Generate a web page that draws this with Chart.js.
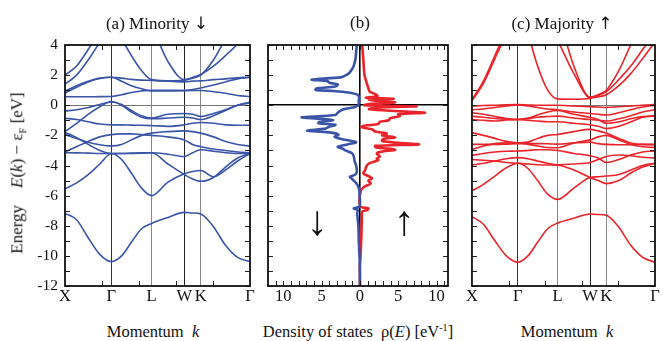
<!DOCTYPE html>
<html>
<head>
<meta charset="utf-8">
<script src="https://cdn.jsdelivr.net/npm/chart.js@4.4.1/dist/chart.umd.min.js"></script>
<style>
  body { margin: 0; background: #fff; width: 663px; height: 341px; overflow: hidden; position: relative; font-family: "Liberation Serif", serif; color: #111; }
  canvas { position: absolute; }
  .lbl { position: absolute; white-space: nowrap; transform: translate(-50%, -50%); font-size: 16.5px; }
  .ttl { font-size: 17px; }
  .ar { font-family: "DejaVu Sans", sans-serif; font-size: 17px; }
  .arrow { position: absolute; transform: translate(-50%, -50%); font-size: 42px; line-height: 1; }
  #ylab { transform: translate(-50%, -50%) rotate(-90deg); font-size: 17px; }
</style>
</head>
<body>
<canvas id="bandsMin" width="262" height="285" style="left:0;top:25px"></canvas>
<canvas id="dos" width="196" height="285" style="left:262px;top:25px"></canvas>
<canvas id="bandsMaj" width="198" height="285" style="left:465px;top:25px"></canvas>

<div class="lbl ttl" style="left:157px;top:23px">(a) Minority <span class="ar">↓</span></div>
<div class="lbl ttl" style="left:360px;top:23px">(b)</div>
<div class="lbl ttl" style="left:562px;top:23px">(c) Majority <span class="ar">↑</span></div>
<div class="lbl" id="ylab" style="left:18px;top:173px"><span style="margin-right:17px">Energy</span><i>E</i>(<i>k</i>) − ε<sub style="font-size:10.5px">F</sub> [eV]</div>
<div class="lbl" style="left:153px;top:332px">Momentum &nbsp;<i>k</i></div>
<div class="lbl" style="left:567px;top:332px">Momentum &nbsp;<i>k</i></div>
<div class="lbl" style="left:358px;top:332px">Density of states &nbsp;ρ(<i>E</i>) [eV<sup style="font-size:10px">-1</sup>]</div>
<div class="arrow" style="left:317px;top:221px">↓</div>
<div class="arrow" style="left:404px;top:221px">↑</div>

<script>
// k-path X - Γ - L - W - K - Γ (units of 2π/a)
const kPoints = [0, 0.25, 0.5, 0.75, 1, 1.22, 1.43, 1.65, 1.866, 2.22, 2.573, 2.75, 2.927, 3.2, 3.46, 3.72, 3.988];
const kTicks = [0, 1, 1.866, 2.573, 2.927, 3.988];
const kLabels = ['X', 'Γ', 'L', 'W', 'K', 'Γ'];
const energyTicks = [4, 2, 0, -2, -4, -6, -8, -10, -12];

// minority spin bands (eV), one row per band, values at kPoints
const minorityBands = [
  [-7.18, -7.6, -8.8, -9.9, -10.38, -10.0, -9.1, -8.2, -7.85, -7.45, -7.11, -7.15, -7.22, -8.06, -9.3, -10.1, -10.38],
  [-5.55, -5.15, -4.6, -3.9, -3.2, -3.6, -4.5, -5.5, -6.0, -5.1, -4.55, -4.4, -4.33, -4.75, -4.3, -3.7, -3.2],
  [-3.15, -3.16, -3.18, -3.2, -3.2, -3.2, -3.2, -3.18, -3.15, -3.9, -4.6, -4.9, -5.05, -4.8, -4.1, -3.5, -3.2],
  [-1.8, -2.15, -2.6, -3.0, -3.2, -3.2, -3.18, -3.16, -3.15, -3.25, -3.4, -3.15, -2.95, -3.05, -3.15, -3.2, -3.2],
  [-3.1, -2.75, -2.4, -2.1, -1.95, -1.9, -1.9, -1.95, -2.0, -2.1, -2.3, -2.6, -2.75, -2.9, -3.0, -3.1, -3.15],
  [-1.95, -2.2, -2.45, -2.62, -2.7, -2.6, -2.3, -2.0, -1.85, -1.75, -1.7, -1.75, -1.85, -2.1, -2.4, -2.6, -2.72],
  [-0.86, -0.95, -1.1, -1.25, -1.3, -1.3, -1.32, -1.33, -1.35, -1.4, -1.3, -1.2, -1.15, -1.2, -1.3, -1.33, -1.33],
  [-1.75, -1.2, -0.6, -0.1, 0.25, 0.0, -0.45, -0.8, -0.9, -0.85, -0.8, -0.85, -0.95, -0.7, -0.35, 0.0, 0.22],
  [-0.38, -0.3, -0.15, 0.05, 0.22, 0.05, -0.35, -0.7, -0.85, -0.6, -0.55, -0.6, -0.75, -0.55, -0.3, 0.0, 0.15],
  [0.57, 0.56, 0.56, 0.57, 0.58, 0.7, 0.85, 0.95, 1.0, 1.0, 0.98, 1.05, 1.15, 1.35, 1.55, 1.75, 1.86],
  [0.81, 1.2, 1.55, 1.78, 1.86, 1.6, 1.3, 1.1, 0.95, 0.95, 0.97, 0.98, 0.98, 0.9, 0.8, 0.65, 0.58],
  [0.95, 1.3, 1.6, 1.8, 1.86, 1.8, 1.72, 1.67, 1.65, 1.6, 1.55, 1.6, 1.62, 1.7, 1.75, 1.82, 1.86],
  [1.4, 2.0, 3.0, 4.2, 5.5, 6.5, 7, 7, 7, 7, 7, 7, 7, 7, 7, 7, 7],
  [2.0, 2.6, 3.7, 5.0, 6.0, 7, 7, 7, 7, 7, 7, 7, 7, 7, 7, 7, 7],
  [7, 7, 7, 6, 5.5, 4.4, 3.3, 2.3, 1.7, 1.62, 1.65, 1.85, 2.05, 2.6, 3.3, 4.1, 5.5],
  [7, 7, 7, 7, 7, 7, 7, 6, 5.2, 2.9, 1.7, 1.8, 2.0, 3.0, 4.4, 5.5, 6.5]
];

// majority spin bands (eV)
const majorityBands = [
  [-7.4, -7.9, -9.0, -10.0, -10.42, -10.0, -9.1, -8.2, -7.82, -7.5, -7.22, -7.25, -7.3, -8.1, -9.3, -10.1, -10.42],
  [-5.68, -5.25, -4.7, -4.15, -3.85, -4.2, -5.0, -5.9, -6.25, -5.5, -4.8, -4.75, -4.7, -4.6, -4.3, -4.0, -3.85],
  [-3.6, -3.65, -3.7, -3.8, -3.85, -3.9, -3.95, -3.97, -3.98, -4.3, -4.8, -5.0, -5.2, -5.0, -4.5, -4.1, -3.85],
  [-3.98, -3.85, -3.7, -3.55, -3.48, -3.55, -3.7, -3.85, -3.95, -3.9, -3.8, -3.6, -3.4, -3.3, -3.35, -3.45, -3.5],
  [-3.33, -3.2, -3.1, -3.05, -3.04, -3.0, -2.95, -2.95, -3.0, -3.2, -3.35, -3.5, -3.8, -3.6, -3.3, -3.1, -3.04],
  [-2.93, -2.7, -2.55, -2.5, -2.5, -2.6, -2.7, -2.8, -2.82, -2.5, -2.3, -2.1, -2.0, -2.3, -2.6, -2.75, -2.8],
  [-2.6, -2.6, -2.6, -2.58, -2.55, -2.55, -2.55, -2.56, -2.58, -2.5, -2.45, -2.55, -2.6, -2.62, -2.62, -2.6, -2.6],
  [-1.83, -2.0, -2.2, -2.4, -2.5, -2.45, -2.2, -2.0, -1.94, -1.75, -1.6, -1.7, -1.85, -2.2, -2.5, -2.6, -2.62],
  [-0.95, -1.0, -1.05, -0.98, -0.95, -1.0, -1.05, -1.1, -1.1, -1.2, -1.3, -1.4, -1.55, -1.4, -1.1, -0.8, -0.7],
  [-0.5, -0.6, -0.75, -0.88, -0.95, -0.85, -0.65, -0.45, -0.35, -0.6, -0.8, -0.95, -1.2, -1.1, -0.9, -0.75, -0.7],
  [-0.73, -0.8, -0.88, -0.93, -0.95, -0.9, -0.8, -0.75, -0.72, -0.85, -0.95, -1.0, -1.05, -0.9, -0.7, -0.45, -0.3],
  [-0.3, -0.25, -0.15, -0.05, 0.02, -0.05, -0.15, -0.25, -0.3, -0.45, -0.55, -0.6, -0.65, -0.5, -0.3, -0.12, 0.0],
  [-0.05, -0.02, 0.0, 0.03, 0.04, 0.02, 0.0, 0.0, 0.0, -0.05, -0.1, -0.12, -0.15, -0.1, -0.05, 0.0, 0.04],
  [0.37, 1.6, 3.3, 5.0, 7, 7, 7, 7, 7, 7, 7, 7, 7, 7, 7, 7, 7],
  [0.3, 1.45, 3.1, 4.8, 7, 7, 7, 7, 7, 7, 7, 7, 7, 7, 7, 7, 7],
  [7, 7, 7, 7, 7, 4.8, 2.6, 1.0, 0.42, 0.4, 0.45, 0.65, 0.9, 1.7, 2.6, 3.7, 4.8],
  [7, 7, 7, 7, 7, 7, 7, 5.5, 4.3, 2.1, 0.55, 0.7, 1.0, 2.3, 4.0, 5.5, 7],
  [7, 7, 7, 7, 7, 7, 7, 7, 6, 2.6, 0.5, 0.55, 0.7, 1.3, 2.1, 3.1, 4.2]
];

// density of states, minority (drawn to the left) and majority (right)
const dosMinEnergy = [4.0, 3.5, 3.0, 2.5, 2.2, 2.1, 1.95, 1.85, 1.7, 1.6, 1.5, 1.38, 1.25, 1.12, 1.02, 0.95, 0.85, 0.7, 0.5, 0.3, 0.1, -0.05, -0.15, -0.3, -0.5, -0.65, -0.8, -0.9, -1.0, -1.1, -1.2, -1.3, -1.45, -1.55, -1.7, -1.8, -1.95, -2.1, -2.25, -2.45, -2.6, -2.75, -2.9, -3.0, -3.2, -3.4, -3.7, -4.0, -4.4, -4.6, -4.75, -4.9, -5.0, -5.3, -5.6, -5.9, -6.7, -6.85, -6.95, -7.2, -8.0, -9.0, -9.8, -10.4, -12];
const dosMin = [0.4, 0.5, 0.6, 0.9, 1.3, 1.5, 2.0, 2.5, 6.3, 4.2, 4.0, 2.9, 3.2, 5.6, 5.8, 3.4, 1.5, 0.3, 0.1, 0.15, 0.15, 0.3, 0.9, 2.3, 2.9, 3.2, 7.6, 5.0, 3.5, 5.3, 5.4, 3.2, 4.1, 4.5, 6.9, 4.0, 2.8, 3.3, 2.3, 0.5, 1.6, 2.9, 2.2, 1.9, 1.0, 0.8, 0.7, 0.5, 0.4, 0.6, 1.3, 1.0, 0.8, 0.3, 0.1, 0.05, 0.05, 0.8, 0.3, 0.35, 0.2, 0.15, 0.08, 0.02, 0];
const dosMajEnergy = [4.0, 3.0, 2.0, 1.45, 1.15, 0.9, 0.74, 0.6, 0.5, 0.43, 0.35, 0.2, 0.1, 0.0, -0.07, -0.15, -0.27, -0.4, -0.5, -0.6, -0.72, -0.87, -1.0, -1.1, -1.25, -1.35, -1.45, -1.6, -1.75, -1.87, -2.0, -2.13, -2.25, -2.38, -2.5, -2.6, -2.7, -2.8, -2.95, -3.1, -3.2, -3.4, -3.55, -3.65, -3.86, -4.1, -4.3, -4.52, -4.7, -4.85, -5.0, -5.2, -5.4, -5.7, -6.7, -6.85, -6.95, -7.07, -7.5, -8.5, -9.5, -10.3, -10.5, -12];
const dosMaj = [0.3, 0.45, 0.6, 0.9, 1.1, 1.3, 2.0, 2.3, 0.8, 4.4, 1.2, 4.6, 1.5, 0.6, 7.4, 2.0, 1.2, 5.5, 8.5, 5.0, 5.2, 3.9, 3.8, 2.6, 2.4, 0.7, 0.2, 1.6, 2.0, 3.5, 2.9, 4.6, 3.0, 2.9, 5.0, 7.7, 2.0, 2.1, 4.6, 2.6, 2.2, 2.6, 2.2, 2.4, 1.2, 0.8, 0.7, 0.45, 1.1, 1.6, 1.1, 1.4, 0.6, 0.1, 0.05, 1.1, 1.0, 0.3, 0.25, 0.2, 0.12, 0.05, 0, 0];
const dosTicks = [-10, -5, 0, 5, 10];

const minorityColor = '#3a55a8';
const majorityColor = '#ea2229';
const serif = 'Liberation Serif';

// inward tick marks and the box around each panel
const framePlugin = {
  id: 'frame',
  afterDatasetsDraw(chart, args, opts) {
    const { ctx, chartArea: a, scales: { x, y } } = chart;
    ctx.save();
    ctx.strokeStyle = '#222';
    ctx.lineWidth = 1;
    ctx.beginPath();
    (opts.yMinor || []).forEach(v => {
      const py = Math.round(y.getPixelForValue(v)) + 0.5;
      ctx.moveTo(a.left, py); ctx.lineTo(a.left + 5, py);
      ctx.moveTo(a.right, py); ctx.lineTo(a.right - 5, py);
    });
    (opts.xMinor || []).forEach(v => {
      const px = Math.round(x.getPixelForValue(v)) + 0.5;
      ctx.moveTo(px, a.top); ctx.lineTo(px, a.top + 5);
      ctx.moveTo(px, a.bottom); ctx.lineTo(px, a.bottom - 5);
    });
    ctx.stroke();
    ctx.lineWidth = 1.8;
    ctx.strokeStyle = '#111';
    ctx.strokeRect(a.left, a.top, a.right - a.left, a.bottom - a.top);
    ctx.restore();
  }
};

const eMinor = [];
for (let e = -12; e <= 4; e++) eMinor.push(e);

function bandChart(id, bands, color, showY, padRight) {
  const kMinor = [1, 2, 3, 4].map(i => kPoints[kPoints.length - 1] * i / 5);
  const lineShades = ['', '#333', '#888', '#222', '#888', ''];
  new Chart(document.getElementById(id), {
    type: 'line',
    data: {
      datasets: bands.map(b => ({
        data: kPoints.map((k, i) => ({ x: k, y: b[i] })),
        borderColor: color,
        borderWidth: 1.6,
        pointRadius: 0,
        cubicInterpolationMode: 'monotone',
        fill: false
      }))
    },
    options: {
      responsive: false,
      animation: false,
      devicePixelRatio: 1,
      layout: { padding: { left: 0, top: 20, right: padRight, bottom: 0 } },
      plugins: { legend: { display: false }, tooltip: { enabled: false }, frame: { yMinor: eMinor, xMinor: kMinor } },
      scales: {
        x: {
          type: 'linear',
          min: 0,
          max: kPoints[kPoints.length - 1],
          afterBuildTicks: s => { s.ticks = kTicks.map(v => ({ value: v })); },
          afterFit: s => { s.height = 24; },
          border: { display: false },
          grid: {
            drawTicks: false,
            color: c => lineShades[c.index] || 'rgba(0,0,0,0)',
            lineWidth: 1
          },
          ticks: {
            autoSkip: false,
            maxRotation: 0,
            padding: 1,
            color: '#111',
            font: { family: serif, size: 16.5 },
            callback: (v, i) => kLabels[i]
          }
        },
        y: {
          type: 'linear',
          min: -12,
          max: 4,
          afterBuildTicks: s => { s.ticks = energyTicks.map(v => ({ value: v })); },
          afterFit: s => { s.width = showY ? 65 : 6; },
          border: { display: false },
          grid: {
            drawTicks: false,
            color: c => (c.tick && c.tick.value === 0) ? '#777' : 'rgba(0,0,0,0)',
            lineWidth: 1
          },
          ticks: {
            display: showY,
            padding: 7,
            color: '#111',
            font: { family: serif, size: 15.5 }
          }
        }
      }
    },
    plugins: [framePlugin]
  });
}

bandChart('bandsMin', minorityBands, minorityColor, true, 12);
bandChart('bandsMaj', majorityBands, majorityColor, false, 8);

const dosMinor = [];
for (let d = -11; d <= 11; d++) dosMinor.push(d);

new Chart(document.getElementById('dos'), {
  type: 'line',
  data: {
    datasets: [
      {
        data: dosMinEnergy.map((e, i) => ({ x: -dosMin[i], y: e })),
        borderColor: minorityColor,
        borderWidth: 2.6,
        pointRadius: 0,
        tension: 0.3,
        fill: false
      },
      {
        data: dosMajEnergy.map((e, i) => ({ x: dosMaj[i], y: e })),
        borderColor: majorityColor,
        borderWidth: 2.6,
        pointRadius: 0,
        tension: 0.3,
        fill: false
      }
    ]
  },
  options: {
    responsive: false,
    animation: false,
    devicePixelRatio: 1,
    layout: { padding: { left: 0, top: 20, right: 10, bottom: 0 } },
    plugins: { legend: { display: false }, tooltip: { enabled: false }, frame: { yMinor: eMinor, xMinor: dosMinor } },
    scales: {
      x: {
        type: 'linear',
        min: -12,
        max: 11.5,
        afterBuildTicks: s => { s.ticks = dosTicks.map(v => ({ value: v })); },
        afterFit: s => { s.height = 24; },
        border: { display: false },
        grid: {
          drawTicks: false,
          color: c => (c.tick && c.tick.value === 0) ? '#000' : 'rgba(0,0,0,0)',
          lineWidth: 1.6
        },
        ticks: {
          autoSkip: false,
          maxRotation: 0,
          padding: 1,
          color: '#111',
          font: { family: serif, size: 16.5 },
          callback: v => String(Math.abs(v))
        }
      },
      y: {
        type: 'linear',
        min: -12,
        max: 4,
        afterBuildTicks: s => { s.ticks = energyTicks.map(v => ({ value: v })); },
        afterFit: s => { s.width = 6; },
        border: { display: false },
        grid: {
          drawTicks: false,
          color: c => (c.tick && c.tick.value === 0) ? '#000' : 'rgba(0,0,0,0)',
          lineWidth: 1.6
        },
        ticks: { display: false }
      }
    }
  },
  plugins: [framePlugin]
});
</script>
</body>
</html>
